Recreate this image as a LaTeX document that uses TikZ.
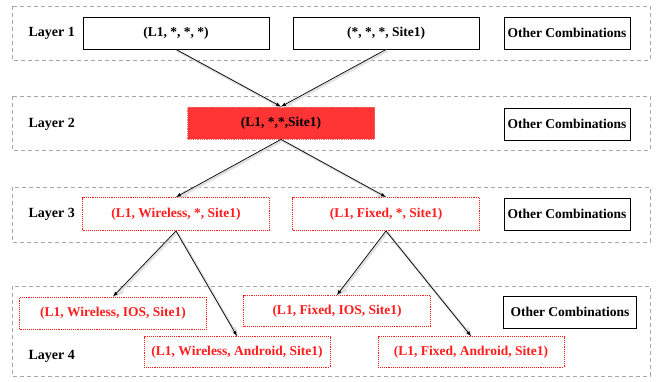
\documentclass[tikz,border=0pt]{standalone}
\usepackage{fontspec}
\setmainfont{Liberation Serif}
\usetikzlibrary{arrows,positioning,calc}
\definecolor{nodered}{RGB}{255,30,30}
\definecolor{fillred}{RGB}{255,52,52}
\tikzset{
layerbox/.style={draw=gray!70, dashed, dash pattern=on 4pt off 3pt, line width=0.8pt},
layerlabel/.style={font=\bfseries\fontsize{14}{16}\selectfont, anchor=west},
plainbox/.style={draw, line width=0.9pt, font=\bfseries\fontsize{13.5}{15}\selectfont, minimum height=32pt, inner sep=0pt},
redbox/.style={draw=nodered, densely dotted, line width=0.9pt, text=nodered, font=\bfseries\fontsize{13.5}{15}\selectfont, minimum height=32pt, inner sep=0pt},
hotbox/.style={fill=fillred, draw=red!60!white, densely dotted, line width=0.8pt, font=\bfseries\fontsize{13.5}{15}\selectfont, minimum height=32pt, inner sep=0pt},
link/.style={-latex, line width=0.7pt, preaction={draw=black!12, line width=2.5pt, transform canvas={xshift=1.2pt, yshift=-1.2pt}}}
}
% one dashed band with its caption
\newcommand \mylayer[4]
{
\draw[layerbox] (12,#1) rectangle (650,#2);
\node[layerlabel] (#4) at (25,#3) {#4};
}

\begin{document}
\begin{tikzpicture}[x=1pt, y=-1pt]
\useasboundingbox (0,0) rectangle (657,381);
\mylayer{6}{60}{33}{Layer 1}
\mylayer{96}{150}{124}{Layer 2}
\mylayer{187}{242}{214}{Layer 3}
\mylayer{286}{376}{356}{Layer 4}
% layer 1
\node[plainbox, minimum width=186pt] (l1) at (176,33) {(L1, *, *, *)};
\node[plainbox, minimum width=186pt] (s1) at (386,33) {(*, *, *, Site1)};
\node[plainbox, minimum width=126pt] (o1) at (567,33) {Other Combinations};
% layer 2
\node[hotbox, minimum width=187pt] (ls) at (281,123) {(L1, *,*,Site1)};
\node[plainbox, minimum width=126pt] (o2) at (567,124) {Other Combinations};
% layer 3
\node[redbox, minimum width=187pt, minimum height=33pt] (lw) at (176,214) {(L1, Wireless, *, Site1)};
\node[redbox, minimum width=187pt, minimum height=33pt] (lf) at (386,214) {(L1, Fixed, *, Site1)};
\node[plainbox, minimum width=126pt] (o3) at (567,214) {Other Combinations};
% layer 4
\node[redbox, minimum width=187pt] (wi) at (113,313) {(L1, Wireless, IOS, Site1)};
\node[redbox, minimum width=186pt, minimum height=31pt] (wa) at (237,352) {(L1, Wireless, Android, Site1)};
\node[redbox, minimum width=187pt, minimum height=31pt] (fi) at (337,311) {(L1, Fixed, IOS, Site1)};
\node[redbox, minimum width=186pt, minimum height=31pt] (fa) at (471,352) {(L1, Fixed, Android, Site1)};
\node[plainbox, minimum width=133pt] (o4) at (570,312) {Other Combinations};
% links
\foreach \a/\b in {l1/ls,s1/ls,ls/lw,ls/lf,lw/wi,lw/wa,lf/fi,lf/fa}
{\draw[link] (\a.south) -- (\b.north);}
\end{tikzpicture}
\end{document}
